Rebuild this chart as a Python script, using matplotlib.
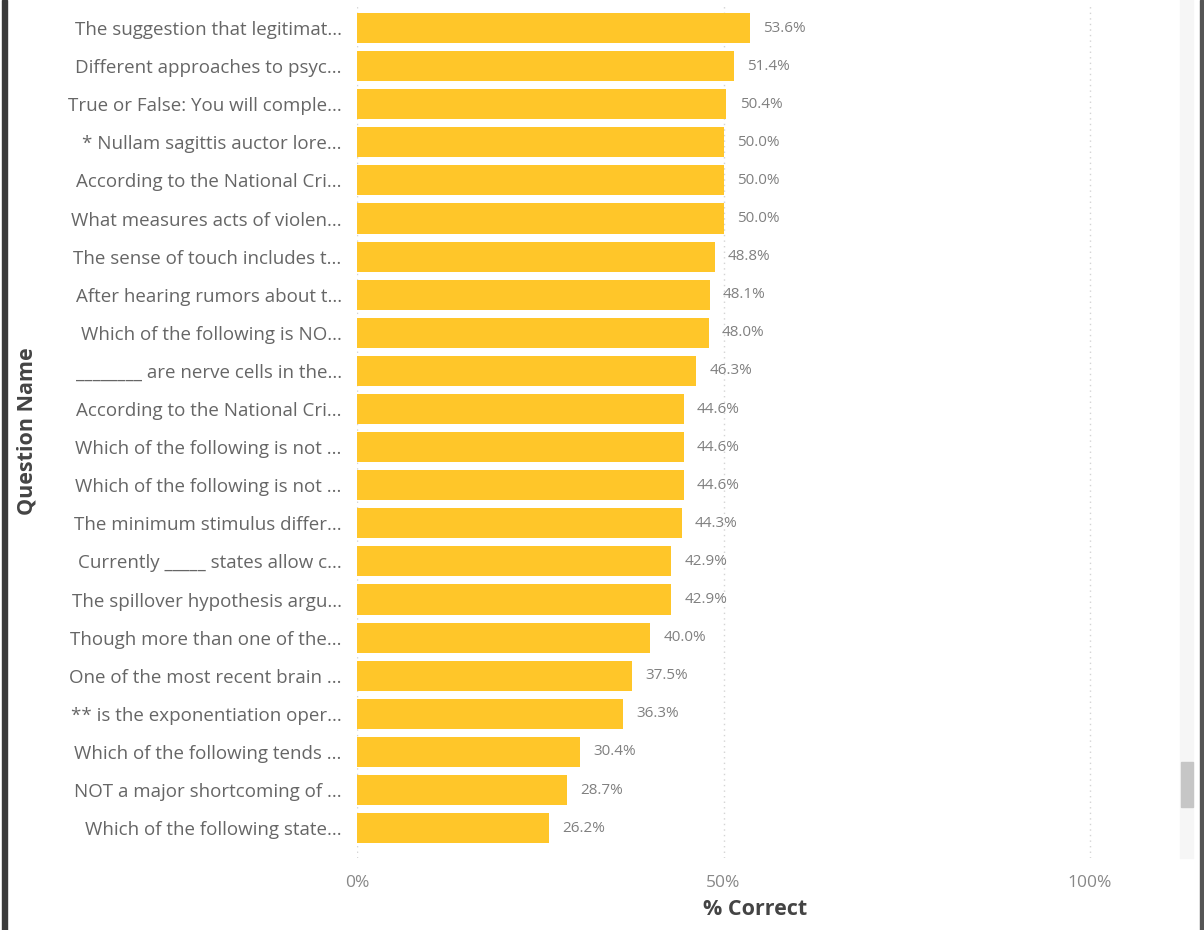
import matplotlib
matplotlib.use("Agg")
import matplotlib.pyplot as plt
from matplotlib.patches import Rectangle
from matplotlib.ticker import FuncFormatter

questions = [
    "The suggestion that legitimat...",
    "Different approaches to psyc...",
    "True or False: You will comple...",
    "* Nullam sagittis auctor lore...",
    "According to the National Cri...",
    "What measures acts of violen...",
    "The sense of touch includes t...",
    "After hearing rumors about t...",
    "Which of the following is NO...",
    "________ are nerve cells in the...",
    "According to the National Cri...",
    "Which of the following is not ...",
    "Which of the following is not ...",
    "The minimum stimulus differ...",
    "Currently _____ states allow c...",
    "The spillover hypothesis argu...",
    "Though more than one of the...",
    "One of the most recent brain ...",
    "** is the exponentiation oper...",
    "Which of the following tends ...",
    "NOT a major shortcoming of ...",
    "Which of the following state...",
]
pct_correct = [53.6, 51.4, 50.4, 50.0, 50.0, 50.0, 48.8, 48.1, 48.0, 46.3,
               44.6, 44.6, 44.6, 44.3, 42.9, 42.9, 40.0, 37.5, 36.3, 30.4,
               28.7, 26.2]
x_ticks = [0, 50, 100]

plt.rcParams['font.family'] = ['Open Sans', 'DejaVu Sans']

W, H = 1204, 930
fig = plt.figure(figsize=(W / 100, H / 100), dpi=100)
fig.patch.set_facecolor('white')

ax_left, ax_right, ax_top, ax_bottom = 357, 1153, 5, 858
ax = fig.add_axes([ax_left / W, 1 - ax_bottom / H, (ax_right - ax_left) / W, (ax_bottom - ax_top) / H])

px_per_pct = (1090 - 357) / 100.0
ax.set_xlim(0, (ax_right - ax_left) / px_per_pct)
spacing = 38.1
first_c = 28
ax.set_ylim((ax_bottom - first_c) / spacing, (ax_top - first_c) / spacing)

ypos = list(range(len(questions)))
ax.barh(ypos, pct_correct, height=0.79, color='#FFC629', zorder=3)

for y, v in zip(ypos, pct_correct):
    ax.text(v + 1.8, y, f"{v:.1f}%", va='center', ha='left', fontsize=11, color='#808080', zorder=4)

for t in x_ticks:
    ax.axvline(t, color='#d4d4d4', linestyle=(0, (1, 3)), linewidth=1.0, zorder=1)

ax.set_yticks(ypos)
ax.set_yticklabels(questions, fontsize=13.5, color='#666666')
ax.set_xticks(x_ticks)
ax.xaxis.set_major_formatter(FuncFormatter(lambda v, p: f"{v:.0f}%"))
ax.tick_params(axis='x', labelsize=12.5, colors='#888888', length=0, pad=12)
ax.tick_params(axis='y', length=0, pad=11)
for s in ax.spines.values():
    s.set_visible(False)

ax.set_xlabel("% Correct", fontsize=15.5, fontweight='bold', color='#444444', labelpad=6)
ax.set_ylabel("Question Name", fontsize=15.5, fontweight='bold', color='#444444')
ax.yaxis.set_label_coords((37 - ax_left) / (ax_right - ax_left), 0.5)

# borders and scrollbar
fig.patches.append(Rectangle((2 / W, 0), 5 / W, 1, transform=fig.transFigure, color='#3a3a3a', zorder=10))
fig.patches.append(Rectangle((1200 / W, 0), 3 / W, 1, transform=fig.transFigure, color='#555555', zorder=10))
fig.patches.append(Rectangle((1180 / W, 1 - 858 / H), 13 / W, 858 / H, transform=fig.transFigure, color='#f6f6f6', zorder=10))
fig.patches.append(Rectangle((1181 / W, 1 - 807 / H), 12 / W, 45 / H, transform=fig.transFigure, color='#c6c6c6', zorder=11))

fig.savefig("out.png", dpi=100)
